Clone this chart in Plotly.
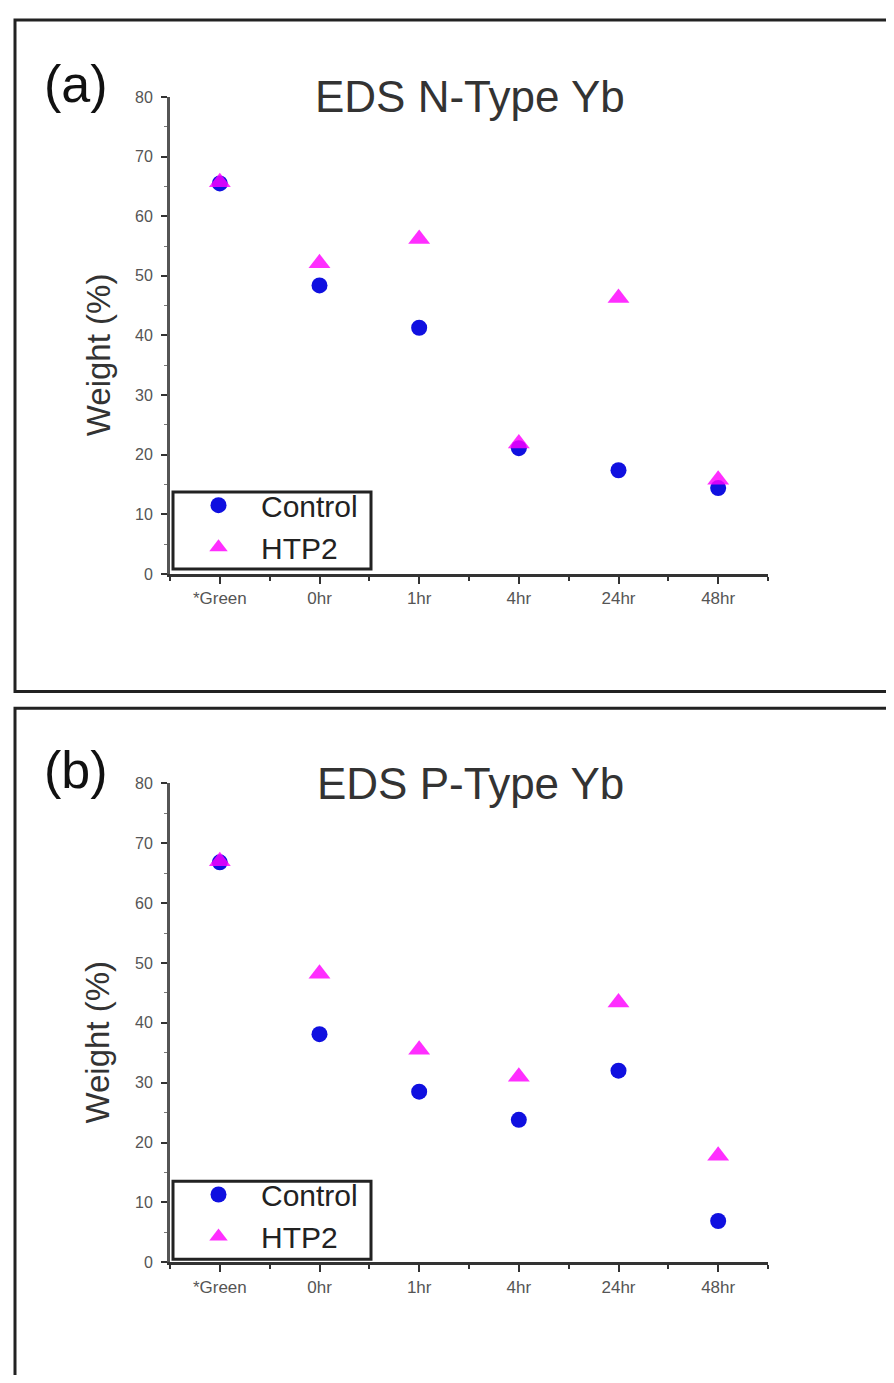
import plotly.graph_objects as go

categories = ["*Green", "0hr", "1hr", "4hr", "24hr", "48hr"]
x_pos = [0, 1, 2, 3, 4, 5]

# Panel (a): EDS N-Type Yb
a_control = [65.5, 48.4, 41.3, 21.1, 17.4, 14.4]
a_htp2 = [65.7, 52.1, 56.2, 21.9, 46.3, 15.8]

# Panel (b): EDS P-Type Yb
b_control = [66.8, 38.1, 28.5, 23.8, 32.0, 6.9]
b_htp2 = [67.0, 48.2, 35.5, 31.0, 43.4, 17.8]

y_ticks = [0, 10, 20, 30, 40, 50, 60, 70, 80]
titles = ["EDS N-Type Yb", "EDS P-Type Yb"]
panel_labels = ["(a)", "(b)"]
y_title = "Weight (%)"

OFF = 8  # default body margin of the html page
W, H = 894 - 2 * OFF, 1383 - 2 * OFF
FONT = "Liberation Sans, Arial, sans-serif"
BLUE = "#1010e0"
MAG = "#ff00ff"


def py(p):
    return 1 - (p - OFF) / H


def px(p):
    return (p - OFF) / W


fig = go.Figure()

panels = [
    dict(ctrl=a_control, htp=a_htp2, top=90, bot=573, border_top=12, border_bot=692,
         leg_top=490, leg_bot=568),
    dict(ctrl=b_control, htp=b_htp2, top=785, bot=1270, border_top=709, border_bot=1420,
         leg_top=1188, leg_bot=1267),
]

for i, p in enumerate(panels):
    xa = "x" if i == 0 else "x2"
    ya = "y" if i == 0 else "y2"
    lg = "legend" if i == 0 else "legend2"
    fig.add_trace(go.Scatter(
        x=x_pos, y=p["ctrl"], mode="markers", name="Control",
        marker=dict(symbol="circle", size=16, color=BLUE),
        xaxis=xa, yaxis=ya, legend=lg))
    fig.add_trace(go.Scatter(
        x=x_pos, y=p["htp"], mode="markers", name="HTP2",
        marker=dict(symbol="triangle-up", size=19, color=MAG, opacity=0.82),
        xaxis=xa, yaxis=ya, legend=lg))

axis_common_x = dict(
    range=[-0.5, 5.5], tickmode="array", tickvals=x_pos, ticktext=categories,
    showline=True, linecolor="#333333", linewidth=3, ticks="outside", ticklen=7,
    tickwidth=2, tickcolor="#333333", showgrid=False, zeroline=False,
    tickfont=dict(family=FONT, size=17, color="#555555"),
    minor=dict(tickmode="array", tickvals=[-0.5, 0.5, 1.5, 2.5, 3.5, 4.5, 5.5],
               ticks="outside", ticklen=4, tickwidth=2, tickcolor="#333333"),
    fixedrange=True,
)
axis_common_y = dict(
    range=[0, 80], tickmode="array", tickvals=y_ticks,
    showline=True, linecolor="#555555", linewidth=3, ticks="outside", ticklen=6,
    tickwidth=2, tickcolor="#333333", showgrid=False, zeroline=False,
    tickfont=dict(family=FONT, size=16, color="#555555"), ticklabelstandoff=5,
    minor=dict(tickmode="array", tickvals=[5, 15, 25, 35, 45, 55, 65, 75],
               ticks="outside", ticklen=3, tickwidth=1, tickcolor="#777777"),
    fixedrange=True,
)

xdom = [px(170), px(768)]
fig.update_layout(
    xaxis=dict(domain=xdom, anchor="y", **axis_common_x),
    yaxis=dict(domain=[py(panels[0]["bot"]), py(panels[0]["top"])], anchor="x", **axis_common_y),
    xaxis2=dict(domain=xdom, anchor="y2", **axis_common_x),
    yaxis2=dict(domain=[py(panels[1]["bot"]), py(panels[1]["top"])], anchor="x2", **axis_common_y),
)

legend_style = dict(
    bgcolor="rgba(0,0,0,0)", borderwidth=0,
    font=dict(family=FONT, size=30, color="#222222"),
    xanchor="left", yanchor="top", tracegroupgap=0, itemwidth=75,
)
fig.update_layout(
    legend=dict(x=px(176), y=py(panels[0]["leg_top"] - 13), **legend_style),
    legend2=dict(x=px(176), y=py(panels[1]["leg_top"] - 13), **legend_style),
)

shapes = []
annotations = []
for i, p in enumerate(panels):
    shapes.append(dict(type="rect", xref="paper", yref="paper",
                       x0=px(15), x1=px(940), y0=py(p["border_bot"]), y1=py(p["border_top"]),
                       line=dict(color="#222222", width=3), layer="below"))
    shapes.append(dict(type="rect", xref="paper", yref="paper",
                       x0=px(173), x1=px(371), y0=py(p["leg_bot"]), y1=py(p["leg_top"]),
                       line=dict(color="#222222", width=3), fillcolor="white", layer="above"))
    annotations.append(dict(text=titles[i], xref="paper", yref="paper",
                            x=px(470), y=py(p["top"]), xanchor="center", yanchor="middle",
                            showarrow=False, font=dict(family=FONT, size=44, color="#333333")))
    annotations.append(dict(text=panel_labels[i], xref="paper", yref="paper",
                            x=px(42), y=py(p["top"] - 13), xanchor="left", yanchor="middle",
                            showarrow=False, font=dict(family=FONT, size=52, color="#111111")))
    annotations.append(dict(text=y_title, xref="paper", yref="paper",
                            x=px(98), y=py((p["top"] + p["bot"]) / 2 + 20),
                            xanchor="center", yanchor="middle", textangle=-90,
                            showarrow=False, font=dict(family=FONT, size=33, color="#333333")))

fig.update_layout(
    width=W, height=H, margin=dict(l=0, r=0, t=0, b=0),
    paper_bgcolor="white", plot_bgcolor="white",
    shapes=shapes, annotations=annotations, showlegend=True,
)

fig.write_html("out.html")
